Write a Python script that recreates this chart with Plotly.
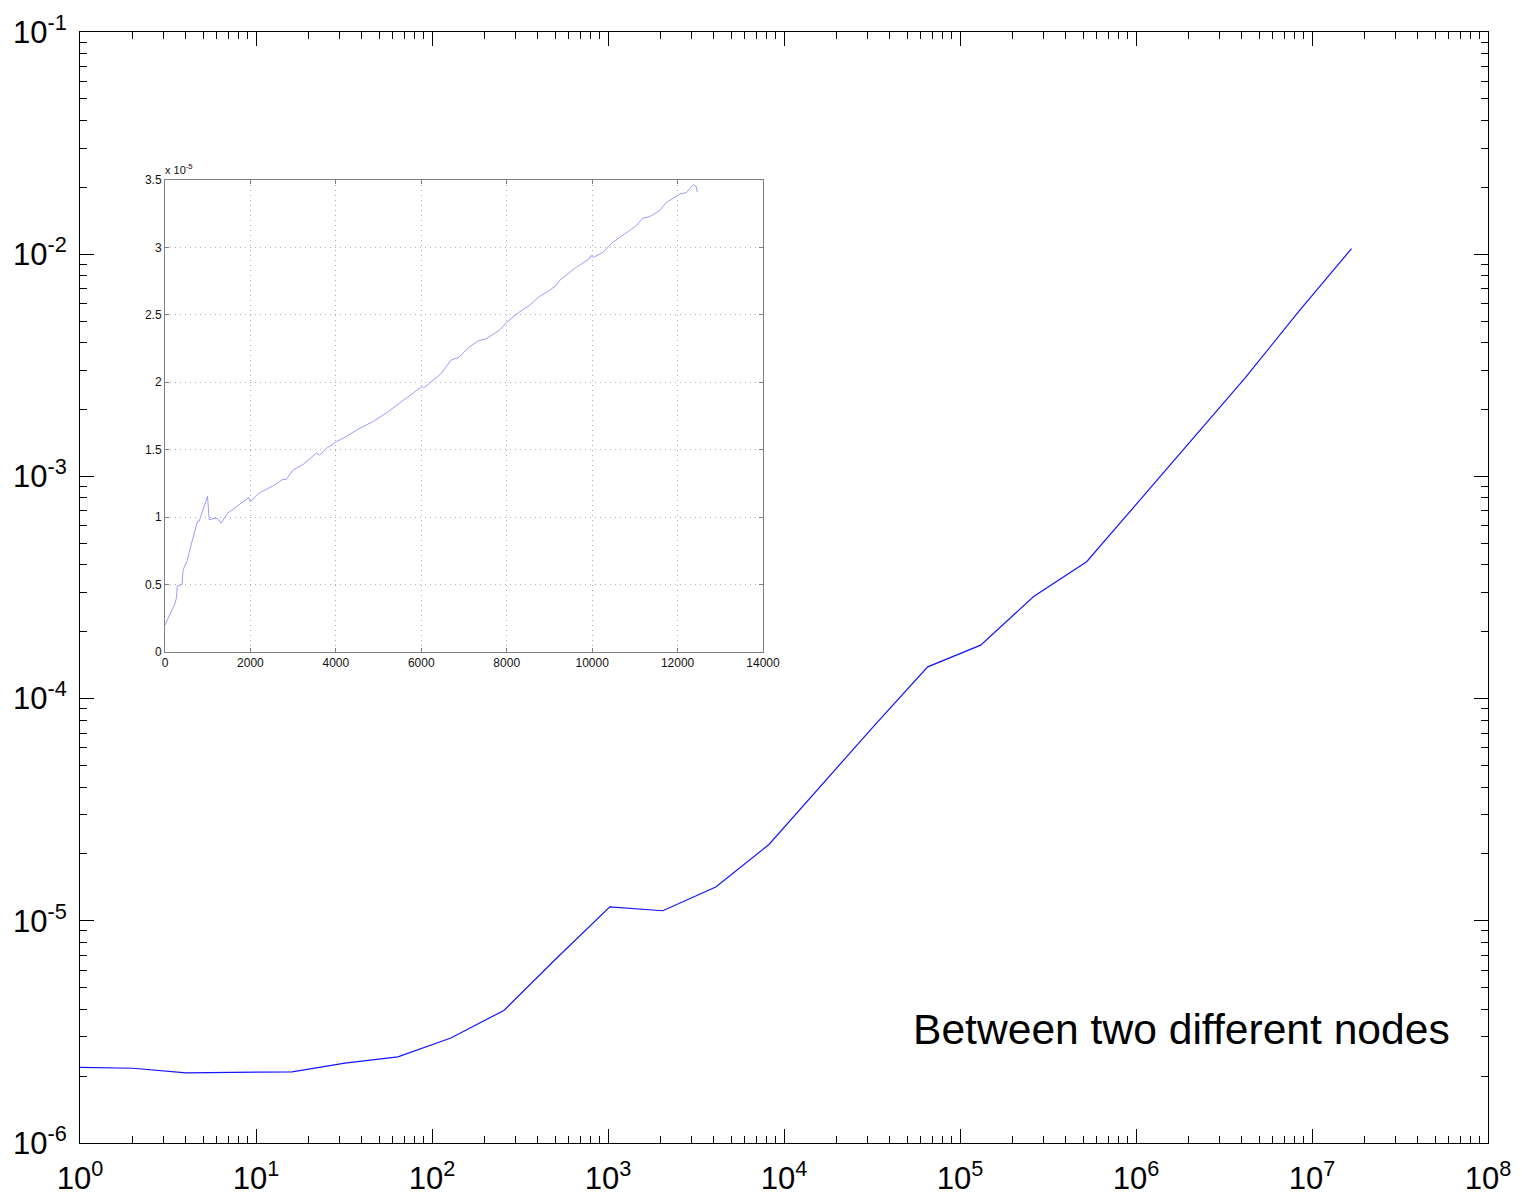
import plotly.graph_objects as go

# ---------------- main series (log-log) ----------------
msg_size = [1, 2, 4, 8, 16, 32, 64, 128, 256, 512, 1024, 2048, 4096, 8192,
            16384, 32768, 65536, 131072, 262144, 524288, 1048576, 2097152,
            4194304, 8388608, 16777216]
latency = [2.19e-6, 2.17e-6, 2.07e-6, 2.08e-6, 2.09e-6, 2.29e-6, 2.44e-6,
           2.97e-6, 3.95e-6, 6.8e-6, 1.155e-5, 1.11e-5, 1.42e-5, 2.2e-5,
           4.1e-5, 7.6e-5, 1.39e-4, 1.74e-4, 2.88e-4, 4.13e-4, 7.8e-4,
           1.47e-3, 2.79e-3, 5.51e-3, 1.06e-2]

# ---------------- inset series (linear, y in units of 1e-5) ----------------
inset_x = [0, 94, 173, 235, 267, 290, 400, 420, 450, 525, 565, 640, 680, 760,
           800, 880, 950, 995, 1035, 1150, 1230, 1310, 1470, 1740, 1960, 2000,
           2210, 2520, 2760, 2840, 3000, 3230, 3545, 3620, 3780, 4015, 4250,
           4565, 4880, 5190, 5585, 6015, 6055, 6450, 6700, 6880, 7115, 7350,
           7505, 7820, 8000, 8290, 8525, 8760, 8995, 9150, 9230, 9620, 9930,
           9970, 10030, 10250, 10480, 10795, 11030, 11185, 11345, 11575, 11735,
           12045, 12205, 12365, 12440, 12460]
inset_y_e5 = [0.20, 0.26, 0.32, 0.36, 0.40, 0.49, 0.50, 0.60, 0.63, 0.68, 0.74,
              0.83, 0.87, 0.97, 0.97, 1.05, 1.12, 1.155, 0.98, 0.99, 0.99,
              0.955, 1.03, 1.09, 1.145, 1.115, 1.18, 1.23, 1.28, 1.28, 1.35,
              1.39, 1.475, 1.46, 1.51, 1.56, 1.60, 1.66, 1.71, 1.775, 1.865,
              1.968, 1.958, 2.06, 2.165, 2.185, 2.26, 2.31, 2.32, 2.383, 2.444,
              2.52, 2.568, 2.635, 2.68, 2.716, 2.753, 2.852, 2.914, 2.94, 2.926,
              2.963, 3.037, 3.111, 3.16, 3.217, 3.227, 3.272, 3.333, 3.395,
              3.407, 3.465, 3.45, 3.41]

# ---------------- tick definitions ----------------
x_major = [1, 10, 100, 1e3, 1e4, 1e5, 1e6, 1e7, 1e8]
x_major_text = ["10<sup>%d</sup>" % e for e in range(0, 9)]
y_major = [1e-6, 1e-5, 1e-4, 1e-3, 1e-2, 1e-1]
y_major_text = ["10<sup>%d</sup>" % e for e in range(-6, 0)]
x_minor = [m * d for d in [1, 10, 100, 1e3, 1e4, 1e5, 1e6, 1e7] for m in range(2, 10)]
y_minor = [m * d for d in [1e-6, 1e-5, 1e-4, 1e-3, 1e-2] for m in range(2, 10)]

inset_xticks = [0, 2000, 4000, 6000, 8000, 10000, 12000, 14000]
inset_xtext = ["0", "2000", "4000", "6000", "8000", "10000", "12000", "14000"]
inset_yticks = [0, 0.5, 1, 1.5, 2, 2.5, 3, 3.5]
inset_ytext = ["0", "0.5", "1", "1.5", "2", "2.5", "3", "3.5"]

FONT = "Liberation Sans, Arial, sans-serif"

fig = go.Figure()
fig.add_trace(go.Scatter(x=msg_size, y=latency, mode="lines",
                         line=dict(color="rgb(20,20,255)", width=1.2),
                         xaxis="x", yaxis="y", showlegend=False))
fig.add_trace(go.Scatter(x=inset_x, y=inset_y_e5, mode="lines",
                         line=dict(color="rgb(155,155,255)", width=1),
                         xaxis="x2", yaxis="y2", showlegend=False))

# page body has an 8px margin, so the figure is reduced and shifted accordingly
OFF = 8
W, H = 1522 - OFF, 1201 - OFF
L, R, T, B = 80 - OFF, 34, 32 - OFF, 58
pw, ph = W - L - R, H - T - B

# convert screenshot pixel positions to paper coordinates
def px2x(p):
    return (p - OFF - L) / pw

def px2y(p):
    return (H - B - (p - OFF)) / ph

GRID_DASH = "1px,4px"

fig.update_layout(
    width=W, height=H,
    margin=dict(l=L, r=R, t=T, b=B, autoexpand=False),
    paper_bgcolor="white", plot_bgcolor="white",
    font=dict(family=FONT, color="black"),
    xaxis=dict(type="log", range=[0, 8], domain=[0, 1], anchor="y",
               showline=True, linecolor="black", linewidth=1, mirror="allticks",
               ticks="inside", ticklen=14, tickcolor="black", tickwidth=1,
               tickvals=x_major, ticktext=x_major_text, showgrid=False,
               zeroline=False, tickfont=dict(size=31, family=FONT),
               ticklabelstandoff=8,
               minor=dict(ticks="inside", ticklen=7, tickcolor="black",
                          tickvals=x_minor, showgrid=False),
               automargin=False),
    yaxis=dict(type="log", range=[-6, -1], domain=[0, 1], anchor="x",
               showline=True, linecolor="black", linewidth=1, mirror="allticks",
               ticks="inside", ticklen=14, tickcolor="black", tickwidth=1,
               tickvals=y_major, ticktext=y_major_text, showgrid=False,
               zeroline=False, tickfont=dict(size=31, family=FONT),
               ticklabelstandoff=6,
               minor=dict(ticks="inside", ticklen=7, tickcolor="black",
                          tickvals=y_minor, showgrid=False),
               automargin=False),
    xaxis2=dict(range=[0, 14000], domain=[px2x(165), px2x(763)], anchor="y2",
                showline=True, linecolor="#808080", linewidth=1, mirror="ticks",
                ticks="inside", ticklen=4, tickcolor="#808080",
                tickvals=inset_xticks, ticktext=inset_xtext, showgrid=True,
                gridcolor="#b0b0b0", griddash=GRID_DASH, gridwidth=1,
                zeroline=False,
                tickfont=dict(size=12, family=FONT, color="#111"),
                automargin=False),
    yaxis2=dict(range=[0, 3.5], domain=[px2y(652), px2y(180)], anchor="x2",
                showline=True, linecolor="#808080", linewidth=1, mirror="ticks",
                ticks="inside", ticklen=4, tickcolor="#808080",
                tickvals=inset_yticks, ticktext=inset_ytext, showgrid=True,
                gridcolor="#b0b0b0", griddash=GRID_DASH, gridwidth=1,
                zeroline=False, tickfont=dict(size=12, family=FONT, color="#111"),
                automargin=False),
    annotations=[
        dict(x=px2x(163), y=px2y(178), xref="paper", yref="paper",
             xanchor="left", yanchor="bottom", showarrow=False,
             text="x 10<sup>-5</sup>", font=dict(size=11, family=FONT, color="#111")),
        dict(x=px2x(911), y=px2y(1029), xref="paper", yref="paper",
             xanchor="left", yanchor="middle", showarrow=False,
             text="Between two different nodes",
             font=dict(size=42.6, family=FONT, color="black")),
    ],
)

fig.write_html("out.html")
